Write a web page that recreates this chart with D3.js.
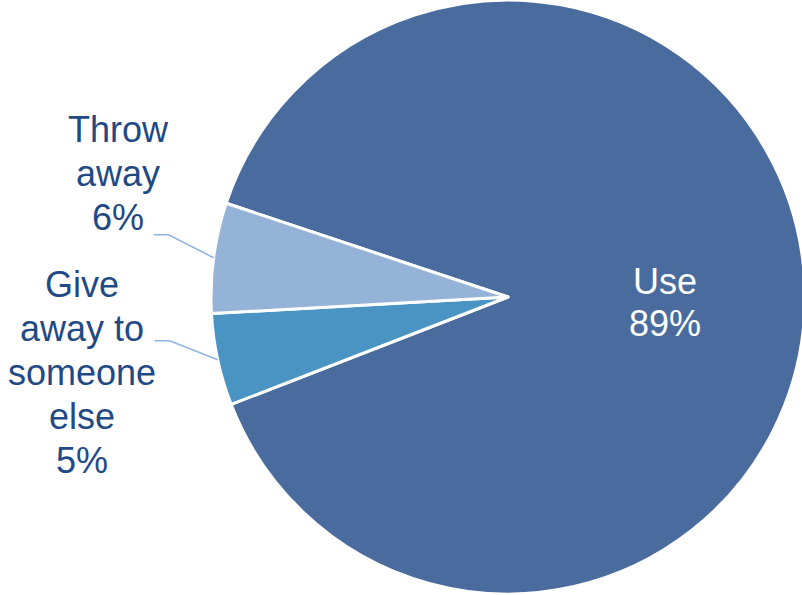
<!DOCTYPE html>
<html><head><meta charset="utf-8">
<script src="https://cdn.jsdelivr.net/npm/d3@7"></script>
<style>html,body{margin:0;padding:0;background:#fff;overflow:hidden}</style>
</head><body>
<svg id="c" width="802" height="595"></svg>
<script>
const categories = ["Use", "Give away to someone else", "Throw away"];
const values = [89, 5, 6];
const labelLines = [["Use", "89%"], ["Give", "away to", "someone", "else", "5%"], ["Throw", "away", "6%"]];
const colors = ["#4A6B9E", "#4A94C3", "#95B3D7"];

const svg = d3.select("#c");
const cx = 508, cy = 297, r = 297;
const startDeg = -71.6;
const pie = d3.pie().sort(null).value(d => d)
  .startAngle(startDeg * Math.PI / 180)
  .endAngle((startDeg + 360) * Math.PI / 180);
const arcs = pie(values);
const arc = d3.arc().innerRadius(0).outerRadius(r);
const g = svg.append("g").attr("transform", `translate(${cx},${cy})`);

g.selectAll("path").data(arcs).enter().append("path")
  .attr("d", arc)
  .attr("fill", (d, i) => colors[i])
  .attr("stroke", "#fff").attr("stroke-width", 3).attr("stroke-linejoin", "round");

const font = "'Liberation Sans', Arial, sans-serif";
const fs = 36, lh = 44;

// Use label (inside)
{
  const a = arcs[0];
  const mid = (a.startAngle + a.endAngle) / 2;
  const lr = 157;
  const x = lr * Math.sin(mid), y = -lr * Math.cos(mid);
  const t = g.append("text").attr("font-family", font).attr("font-size", fs)
    .attr("fill", "#fff").attr("text-anchor", "middle");
  labelLines[0].forEach((s, k) => t.append("tspan").attr("x", x).attr("y", y + 1 + k * 42).text(s));
}

// outside labels with leader lines
const outside = [
  {i: 1, elbowDx: -48, elbowDy: -19, textX: 82, firstBaseline: 297},
  {i: 2, elbowDx: -45, elbowDy: -23, textX: 118, firstBaseline: 142}
];
outside.forEach(o => {
  const a = arcs[o.i];
  const mid = (a.startAngle + a.endAngle) / 2;
  const px = cx + r * Math.sin(mid), py = cy - r * Math.cos(mid);
  const ex = px + o.elbowDx, ey = py + o.elbowDy;
  svg.append("polyline")
    .attr("points", `${px},${py} ${ex},${ey} ${ex - 15},${ey}`)
    .attr("fill", "none").attr("stroke", "#8DB3E2").attr("stroke-width", 1.5);
  const t = svg.append("text").attr("font-family", font).attr("font-size", fs)
    .attr("fill", "#1F4A85").attr("text-anchor", "middle");
  labelLines[o.i].forEach((s, k) => t.append("tspan").attr("x", o.textX).attr("y", o.firstBaseline + k * lh).text(s));
});
</script>
</body></html>
